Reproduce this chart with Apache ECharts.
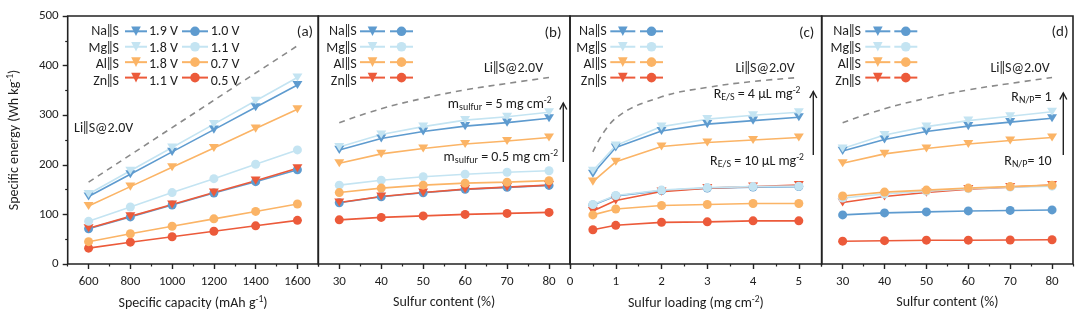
<!DOCTYPE html>
<html>
<head>
<meta charset="utf-8">
<script src="https://cdn.jsdelivr.net/npm/echarts@6/dist/echarts.min.js"></script>
<style>
  html, body { margin: 0; padding: 0; background: #fff; }
  #chart { width: 1080px; height: 321px; }
</style>
</head>
<body>
<div id="chart"></div>
<script>
const FONT = 'Carlito, Lato, sans-serif';
const INK = '#1e1e1e';
const BARS = '\u2016';

// (a) specific energy vs. specific capacity (mAh/g)
const capacityA = [600, 800, 1000, 1200, 1400, 1600];
const liA    = [165, 220, 275, 330, 385, 440];
const naTriA = [136, 181, 226, 271, 316, 361];
const mgTriA = [141, 188, 235, 282, 329, 376];
const alTriA = [117, 156, 195, 234, 273, 312];
const znTriA = [72, 96, 120, 144, 168, 193];
const naCirA = [71, 95, 119, 143, 166, 190];
const mgCirA = [86, 115, 144, 172, 201, 230];
const alCirA = [45, 61, 76, 91, 106, 121];
const znCirA = [32, 44, 55, 66, 77, 88];
const voltTriA = ['1.9 V', '1.8 V', '1.8 V', '1.1 V'];
const voltCirA = ['1.0 V', '1.1 V', '0.7 V', '0.5 V'];

// (b) specific energy vs. sulfur content (%)
const sulfurB = [30, 40, 50, 60, 70, 80];
const liB    = [285, 313, 334, 351, 364, 376];
const naTriB = [230, 253, 267, 278, 285, 294];
const mgTriB = [236, 261, 277, 290, 297, 306];
const alTriB = [203, 222, 233, 242, 248, 255];
const znTriB = [124, 136, 144, 151, 155, 159];
const naCirB = [123.5, 135.5, 143.5, 150.5, 154.5, 158.5];
const mgCirB = [159, 169, 176, 181, 185, 188];
const alCirB = [144, 153, 159, 163, 165, 168];
const znCirB = [89, 94, 97, 100, 102, 104];

// (c) specific energy vs. sulfur loading (mg/cm2)
const loadingC = [0.5, 1, 2, 3, 4, 5];
const liC    = [226, 294, 337, 356, 368, 376];
const naTriC = [182, 235, 268, 282, 289, 296];
const mgTriC = [188, 239, 277, 292, 300, 306];
const alTriC = [166, 206, 237, 245, 250, 255];
const znTriC = [107, 128, 146, 153, 156, 159];
const naCirC = [119, 137, 148, 153, 155, 156];
const mgCirC = [120, 138, 149, 154, 156, 157];
const alCirC = [99, 111, 118, 120, 122, 122];
const znCirC = [69, 78, 84, 85, 87, 87];

// (d) specific energy vs. sulfur content (%), N/P ratio 1 vs 10
const sulfurD = [30, 40, 50, 60, 70, 80];
const liD    = [285, 313, 334, 351, 364, 376];
const naTriD = [228, 251, 267, 278, 286, 294];
const mgTriD = [233, 260, 277, 289, 298, 307];
const alTriD = [203, 222, 233, 242, 249, 255];
const znTriD = [124, 136, 144, 151, 155, 159];
const naCirD = [99, 103, 105, 107, 108, 109];
const mgCirD = [133, 141, 147, 152, 155, 157];
const alCirD = [137, 145, 149, 153, 156, 159];
const znCirD = [46, 47, 48, 48, 48.5, 49];

// axis ticks / labels
const xMajorA = [600, 800, 1000, 1200, 1400, 1600];
const xMinorA = [500, 700, 900, 1100, 1300, 1500, 1700];
const xMajorB = [30, 40, 50, 60, 70, 80];
const xMinorB = [25, 35, 45, 55, 65, 75, 85];
const xMajorC = [0, 1, 2, 3, 4, 5];
const xMinorC = [0.5, 1.5, 2.5, 3.5, 4.5, 5.5];
const xMajorD = [30, 40, 50, 60, 70, 80];
const xMinorD = [25, 35, 45, 55, 65, 75, 85];

const metals = ['Na', 'Mg', 'Al', 'Zn'];
const COLORS = { Na: '#5e9bcf', Mg: '#c4e4f2', Al: '#fbb466', Zn: '#ec5a3a' };
const TRI = 'path://M0,0L10,0L5,9Z';

const panels = [
  { key: 'a', xs: capacityA, li: liA, smooth: false, min: 500, max: 1700, major: xMajorA, minor: xMinorA,
    tri: { Na: naTriA, Mg: mgTriA, Al: alTriA, Zn: znTriA },
    cir: { Na: naCirA, Mg: mgCirA, Al: alCirA, Zn: znCirA },
    grid: { left: 67.7, width: 250.6 }, title: 'Specific capacity (mAh g{sup|-1})' },
  { key: 'b', xs: sulfurB, li: liB, smooth: true, min: 25, max: 85, major: xMajorB, minor: xMinorB,
    tri: { Na: naTriB, Mg: mgTriB, Al: alTriB, Zn: znTriB },
    cir: { Na: naCirB, Mg: mgCirB, Al: alCirB, Zn: znCirB },
    grid: { left: 318.3, width: 251.7 }, title: 'Sulfur content (%)' },
  { key: 'c', xs: loadingC, li: liC, smooth: true, min: 0, max: 5.5, major: xMajorC, minor: xMinorC,
    tri: { Na: naTriC, Mg: mgTriC, Al: alTriC, Zn: znTriC },
    cir: { Na: naCirC, Mg: mgCirC, Al: alCirC, Zn: znCirC },
    grid: { left: 570, width: 251.7 }, title: 'Sulfur loading (mg cm{sup|-2})' },
  { key: 'd', xs: sulfurD, li: liD, smooth: true, min: 25, max: 85, major: xMajorD, minor: xMinorD,
    tri: { Na: naTriD, Mg: mgTriD, Al: alTriD, Zn: znTriD },
    cir: { Na: naCirD, Mg: mgCirD, Al: alCirD, Zn: znCirD },
    grid: { left: 821.7, width: 251.3 }, title: 'Sulfur content (%)' }
];

const SUPSUB = {
  sup: { fontSize: 9.5, fontFamily: FONT, color: INK, fill: INK, padding: [0, 0, 7, 0] },
  sub: { fontSize: 10, fontFamily: FONT, color: INK, fill: INK, padding: [7, 0, 0, 0] }
};

function seriesName(metal, shape, key) { return metal + '||S ' + shape + ' (' + key + ')'; }

function curve(name, idx, xs, ys, color, tri) {
  return {
    type: 'line', name, xAxisIndex: idx, yAxisIndex: idx,
    data: xs.map((x, i) => [x, ys[i]]),
    symbol: tri ? TRI : 'circle',
    symbolSize: tri ? [10, 9] : 9,
    symbolKeepAspect: true,
    lineStyle: { color, width: 1.6 },
    itemStyle: { color, borderWidth: 0 },
    z: 3, animation: false, silent: true
  };
}

const grids = [], xAxes = [], yAxes = [], series = [], legends = [];
const minorAxes = [];

panels.forEach((p, idx) => {
  grids.push({ left: p.grid.left, width: p.grid.width, top: 16, height: 248,
    show: true, borderColor: '#222', borderWidth: 1.6, backgroundColor: 'transparent', containLabel: false });

  xAxes.push({
    type: 'value', gridIndex: idx, position: 'bottom', min: p.min, max: p.max,
    axisLine: { show: false }, splitLine: { show: false },
    axisTick: { show: true, inside: false, length: 5, customValues: p.major, lineStyle: { color: '#222', width: 1.4 } },
    axisLabel: { show: true, customValues: p.major, margin: 11, fontSize: 13, fontFamily: FONT, color: INK,
                 formatter: v => String(v) },
    name: p.title, nameLocation: 'middle', nameGap: 31,
    nameTextStyle: { fontSize: 14, fontFamily: FONT, color: INK, rich: SUPSUB }
  });
  minorAxes.push({
    type: 'value', gridIndex: idx, position: 'bottom', min: p.min, max: p.max,
    axisLine: { show: false }, splitLine: { show: false }, axisLabel: { show: false },
    axisTick: { show: true, inside: false, length: 2.5, customValues: p.minor, lineStyle: { color: '#222', width: 1.2 } }
  });

  if (idx === 0) {
    yAxes.push({
      type: 'value', gridIndex: idx, min: 0, max: 500, interval: 100,
      axisLine: { show: false }, splitLine: { show: false },
      axisTick: { show: true, inside: false, length: 5, lineStyle: { color: '#222', width: 1.4 } },
      minorTick: { show: true, splitNumber: 2, length: 2.5, lineStyle: { color: '#222', width: 1.2 } },
      axisLabel: { margin: 9, fontSize: 13, fontFamily: FONT, color: INK, formatter: v => String(v) },
      name: 'Specific energy (Wh kg{sup|-1})', nameLocation: 'middle', nameGap: 45,
      nameTextStyle: { fontSize: 14, fontFamily: FONT, color: INK, rich: SUPSUB }
    });
  } else {
    yAxes.push({ type: 'value', gridIndex: idx, min: 0, max: 500, interval: 100, show: false });
  }

  // Li||S reference curve
  series.push({
    type: 'line', name: 'Li||S@2.0V (' + p.key + ')', xAxisIndex: idx, yAxisIndex: idx,
    data: p.xs.map((x, i) => [x, p.li[i]]), smooth: p.smooth ? 0.4 : false,
    symbol: 'none', lineStyle: { color: '#8a8a8a', width: 1.6, type: [6, 5] },
    z: 2, animation: false, silent: true
  });

  // drawing order: Na, Zn, Mg, Al (later series sit on top)
  ['Na', 'Zn', 'Mg', 'Al'].forEach(m => {
    series.push(curve(seriesName(m, 'tri', p.key), idx, p.xs, p.tri[m], COLORS[m], true));
    series.push(curve(seriesName(m, 'cir', p.key), idx, p.xs, p.cir[m], COLORS[m], false));
  });
});

// legend icon columns (row labels are drawn as text)
const legendCols = [
  { key: 'a', tri: 124, cir: 181, wTri: 22, wCir: 26 },
  { key: 'b', tri: 359, cir: 389, wTri: 25, wCir: 23 },
  { key: 'c', tri: 609.3, cir: 639, wTri: 25, wCir: 23 },
  { key: 'd', tri: 864.3, cir: 893.3, wTri: 25, wCir: 23 }
];
const ROW_Y = [31.3, 48, 64.6, 81.2];
const ITEM_H = 12;
legendCols.forEach(c => {
  ['tri', 'cir'].forEach(shape => {
    legends.push({
      orient: 'vertical', left: c[shape], top: ROW_Y[0] - ITEM_H / 2, padding: 0,
      itemWidth: shape === 'tri' ? c.wTri : c.wCir, itemHeight: ITEM_H,
      itemGap: (ROW_Y[3] - ROW_Y[0]) / 3 - ITEM_H,
      data: metals.map(m => seriesName(m, shape, c.key)),
      formatter: () => '', selectedMode: false,
      textStyle: { fontSize: 1 }
    });
  });
});

// text annotations
const graphics = [];
function txt(x, y, text, align, size) {
  graphics.push({
    type: 'text', x, y, z: 20, silent: true,
    style: { text, fontSize: size || 14, fontFamily: FONT, fill: INK,
             align: align || 'center', verticalAlign: 'middle', rich: SUPSUB }
  });
}
function arrow(x, yBottom, yTop) {
  graphics.push({ type: 'line', z: 20, silent: true, shape: { x1: x, y1: yBottom, x2: x, y2: yTop },
    style: { stroke: '#222', lineWidth: 1.4 } });
  graphics.push({ type: 'polyline', z: 20, silent: true,
    shape: { points: [[x - 3.5, yTop + 6.5], [x, yTop], [x + 3.5, yTop + 6.5]] },
    style: { stroke: '#222', lineWidth: 1.4, fill: null } });
}

const rowLabelRight = { a: 119, b: 356.7, c: 606.7, d: 861 };
Object.keys(rowLabelRight).forEach(k => {
  metals.forEach((m, i) => txt(rowLabelRight[k], ROW_Y[i], m + BARS + 'S', 'right'));
});
voltTriA.forEach((v, i) => txt(149, ROW_Y[i], v, 'left'));
voltCirA.forEach((v, i) => txt(210.7, ROW_Y[i], v, 'left'));

txt(305, 32.5, '(a)', 'center', 15);
txt(553, 33, '(b)', 'center', 15);
txt(806.7, 33, '(c)', 'center', 15);
txt(1060, 32.5, '(d)', 'center', 15);

const LI_LABEL = 'Li' + BARS + 'S@2.0V';
txt(74, 128, LI_LABEL, 'left');
txt(513.5, 68, LI_LABEL);
txt(765, 68, LI_LABEL);
txt(1020, 68, LI_LABEL);

txt(499.7, 104, 'm{sub|sulfur} = 5 mg cm{sup|-2}');
txt(500.8, 157, 'm{sub|sulfur} = 0.5 mg cm{sup|-2}');
txt(757, 94, 'R{sub|E/S} = 4 μL mg{sup|-2}');
txt(757, 161, 'R{sub|E/S} = 10 μL mg{sup|-2}');
txt(1031.5, 97, 'R{sub|N/P}= 1');
txt(1028, 161, 'R{sub|N/P}= 10');

arrow(563.3, 162, 103);
arrow(813.3, 155, 91.5);
arrow(1063.3, 155, 93);

const chart = echarts.init(document.getElementById('chart'), null, { renderer: 'canvas' });
chart.setOption({
  animation: false,
  backgroundColor: '#fff',
  textStyle: { fontFamily: FONT },
  grid: grids,
  xAxis: xAxes.concat(minorAxes),
  yAxis: yAxes,
  legend: legends,
  series,
  graphic: graphics
});
</script>
</body>
</html>
